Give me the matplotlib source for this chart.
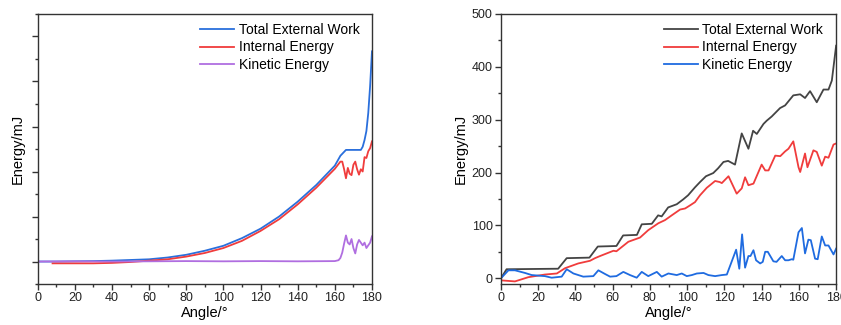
import matplotlib

matplotlib.use("Agg")
import matplotlib.pyplot as plt
from matplotlib.ticker import MultipleLocator, NullFormatter

# left panel (no y tick labels in the source, units arbitrary: 100 per major tick)
L_WORK_ANGLE = [0, 10, 20, 30, 40, 50, 60, 70, 80, 90, 100, 110, 120, 130, 140, 150,
                160, 163, 166, 170, 174, 175, 176, 177, 178, 179, 180]
L_WORK = [0, 0, 0.5, 1, 2, 3.5, 5, 9, 15, 24, 35, 52, 73, 100, 133, 170,
          213, 235, 248, 248, 248, 255, 270, 290, 330, 390, 467]

L_INT_ANGLE = [8, 10, 20, 30, 40, 50, 60, 70, 80, 90, 100, 110, 120, 130, 140, 150, 160,
               163, 164, 165, 166, 167, 168, 169, 170, 171, 172, 173, 174, 175, 176,
               177, 178, 179, 180]
L_INT = [-4, -4, -4, -4, -3, -1, 2, 5, 11, 19, 30, 46, 68, 94, 127, 164, 206,
         222, 222, 205, 185, 208, 195, 192, 215, 222, 205, 193, 205, 200, 232,
         230, 245, 252, 267]

L_KIN_ANGLE = [0, 20, 40, 60, 80, 100, 120, 140, 160, 162, 163, 164, 165, 166, 167, 168,
               169, 170, 171, 172, 173, 174, 175, 176, 177, 178, 179, 180]
L_KIN = [0, 0.5, 0, 0.5, 1, 0.5, 1, 0.5, 1, 3, 8, 20, 40, 58, 42, 38,
         50, 30, 18, 38, 48, 42, 36, 42, 30, 36, 42, 56]

# right panel
R_WORK_ANGLE = [0, 3, 30.7, 35.3, 47.5, 52, 62, 65.6, 73, 75.6, 81, 84.4, 86.3, 89.8,
                94.4, 97.8, 100.5, 104.2, 106.9, 110.1, 114, 116.6, 119.5, 122, 125.7,
                129.3, 132.9, 135.4, 137.4, 141, 142.7, 145.4, 149.9, 152.6, 157,
                160.7, 163.3, 166, 169.6, 173.2, 175.9, 177.7, 180]
R_WORK = [0, 17, 18, 38, 39, 60, 61, 81, 82, 102, 103, 119, 117, 134,
          140, 149, 157, 172, 182, 193, 199, 208, 220, 222, 215,
          274, 245, 279, 273, 292, 298, 306, 322, 327, 346,
          348, 341, 354, 333, 357, 357, 374, 440]

R_INT_ANGLE = [0, 7.5, 14.7, 23.6, 30, 34.4, 41.5, 47.8, 50.5, 53.2, 60.4, 62, 68.4,
               74.7, 79.1, 84.5, 88.1, 91.7, 96.2, 98.9, 101.6, 104.2, 106.9, 110.5,
               115, 117.5, 118.6, 122.2, 126.6, 129.3, 131.1, 132.9, 135.6, 140,
               141.9, 143.7, 147.3, 150, 152.6, 154.4, 157, 159.8, 160.7, 163.3,
               164.6, 167.8, 169.6, 172.3, 174.1, 175.9, 178.6, 180]
R_INT = [-4, -6, 2, 7, 9, 19, 28, 33, 38, 42, 52, 51, 69,
         77, 91, 104, 110, 119, 130, 132, 138, 144, 157, 171,
         184, 182, 180, 193, 160, 170, 191, 176, 179, 215,
         204, 204, 232, 231, 240, 245, 259, 210, 201, 236,
         210, 242, 239, 213, 230, 228, 253, 255]

R_KIN_ANGLE = [0, 4, 7.5, 12.9, 16.5, 23.6, 27.2, 32.6, 35.3, 38.9, 44.2, 49.6, 52.3,
               55.9, 58.6, 62, 65.7, 69.3, 72.9, 75.6, 79.1, 83.7, 86.3, 89.9, 94.4,
               97.1, 99.8, 102.5, 105.2, 108.8, 111.4, 115, 118.6, 121.3, 126.3, 128,
               129.5, 131.1, 132.9, 134, 135.6, 137, 139.2, 140.6, 141.9, 143.3,
               146.3, 148, 150.8, 152.6, 154.4, 156.2, 157, 159.8, 161.6, 163.3,
               165.1, 166.4, 168.7, 170.1, 172.3, 174.1, 175.9, 178.6, 180]
R_KIN = [0, 15, 15, 10, 6, 4, 1, 3, 17, 9, 3, 4, 15,
         8, 3, 4, 12, 6, 1, 12, 4, 12, 3, 9, 6,
         9, 4, 6, 9, 10, 6, 4, 6, 7, 54, 18,
         83, 20, 42, 42, 53, 34, 28, 31, 50, 50,
         32, 31, 42, 34, 34, 36, 35, 87, 95, 47,
         73, 72, 37, 36, 79, 62, 62, 45, 56]

LEGEND_LABELS = ["Total External Work", "Internal Energy", "Kinetic Energy"]

plt.rcParams.update({
    "font.family": ["Liberation Sans", "DejaVu Sans"],
    "axes.linewidth": 1.0,
    "axes.edgecolor": "#333333",
    "xtick.color": "#333333",
    "ytick.color": "#333333",
    "xtick.labelcolor": "#222222",
    "ytick.labelcolor": "#222222",
})

fig = plt.figure(figsize=(8.41, 3.25), dpi=100)
ax1 = fig.add_axes([0.0448, 0.126, 0.3975, 0.831])
ax2 = fig.add_axes([0.5957, 0.126, 0.3985, 0.831])

ax1.plot(L_WORK_ANGLE, L_WORK, color="#2a6fdc", lw=1.3, label=LEGEND_LABELS[0])
ax1.plot(L_INT_ANGLE, L_INT, color="#f03c3c", lw=1.3, label=LEGEND_LABELS[1])
ax1.plot(L_KIN_ANGLE, L_KIN, color="#b06ee0", lw=1.3, label=LEGEND_LABELS[2])

ax2.plot(R_WORK_ANGLE, R_WORK, color="#444444", lw=1.3, label=LEGEND_LABELS[0])
ax2.plot(R_INT_ANGLE, R_INT, color="#f03c3c", lw=1.3, label=LEGEND_LABELS[1])
ax2.plot(R_KIN_ANGLE, R_KIN, color="#1f6be0", lw=1.3, label=LEGEND_LABELS[2])

for ax in (ax1, ax2):
    ax.set_xlim(0, 180)
    ax.xaxis.set_major_locator(MultipleLocator(20))
    ax.xaxis.set_minor_locator(MultipleLocator(10))
    ax.yaxis.set_major_locator(MultipleLocator(100))
    ax.yaxis.set_minor_locator(MultipleLocator(50))
    ax.tick_params(which="major", direction="out", length=4, width=1.0, labelsize=9, pad=2)
    ax.tick_params(which="minor", direction="out", length=2.5, width=1.0)
    ax.set_xlabel("Angle/°", fontsize=10.5, labelpad=1)
    ax.set_ylabel("Energy/mJ", fontsize=10.5, labelpad=3)

ax1.set_ylim(-50, 550)
ax1.yaxis.set_major_formatter(NullFormatter())
ax2.set_ylim(-11, 500)

ax1.legend(loc="upper left", bbox_to_anchor=(0.46, 1.0), frameon=False, fontsize=10,
           handlelength=2.4, handletextpad=0.35, labelspacing=0.25, borderaxespad=0.25)
ax2.legend(loc="upper left", bbox_to_anchor=(0.46, 1.0), frameon=False, fontsize=10,
           handlelength=2.4, handletextpad=0.35, labelspacing=0.25, borderaxespad=0.25)

fig.savefig("out.png", dpi=100)
